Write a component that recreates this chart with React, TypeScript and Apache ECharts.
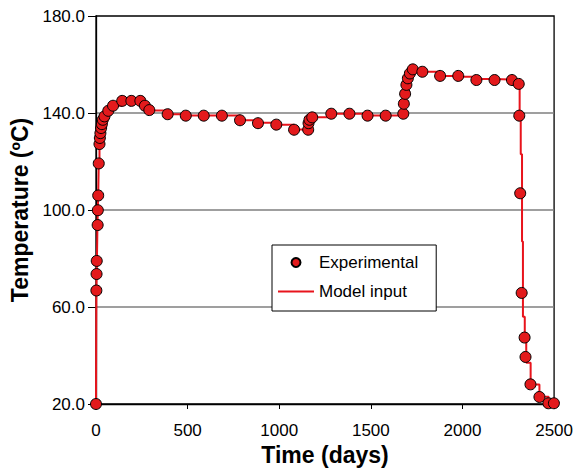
import React, { useEffect, useRef } from 'react';
import * as echarts from 'echarts';

// Experimental measurements (days, °C)
const expDays = [
  0, 2, 3, 4, 9, 10, 12, 15, 19, 21, 24, 28, 32, 37, 46, 67, 93, 143, 193, 242,
  267, 291, 391, 490, 588, 687, 786, 884, 984, 1081, 1158, 1160, 1165, 1180,
  1284, 1383, 1482, 1581, 1677, 1680, 1687, 1694, 1702, 1713, 1729, 1781, 1878,
  1977, 2076, 2175, 2270, 2307, 2310, 2315, 2323, 2339, 2344, 2371, 2420, 2469, 2499,
];
const expTemps = [
  20, 66.8, 73.6, 79, 93.8, 99.9, 106, 119.2, 127.2, 129.7, 131.7, 133.8, 135.4,
  137.2, 138.6, 140.9, 143, 145, 145, 145, 143, 141.2, 139.5, 138.9, 138.9, 138.9,
  137, 135.8, 135.2, 133.1, 133.1, 135.8, 137.2, 138.2, 139.7, 139.7, 138.9, 138.9,
  139.7, 143.8, 147.9, 151.6, 154.3, 156.3, 158, 157, 155.3, 155.3, 153.6, 153.6,
  153.6, 152, 138.9, 106.9, 65.8, 47.4, 39.4, 28.1, 22.9, 20.3, 20.3,
];

// Model input (step function)
const modelDays = [
  0, 1, 2, 4, 5, 8, 10, 12, 15, 19, 21, 24, 28, 32, 37, 46, 67, 93, 143, 193,
  242, 267, 291, 391, 490, 588, 687, 786, 884, 984, 1081, 1158, 1163, 1170, 1180,
  1284, 1383, 1482, 1581, 1677, 1681, 1687, 1694, 1702, 1713, 1729, 1781, 1878,
  1977, 2076, 2175, 2270, 2305, 2312, 2318, 2325, 2330, 2340, 2348, 2372, 2420,
  2470, 2500,
];
const modelTemps = [
  20, 45, 67, 74, 79, 94, 100, 106, 119, 127, 130, 132, 134, 135.5, 137, 138.6,
  141, 143, 145, 145, 145, 143, 141, 139.5, 139, 139, 139, 137, 136, 135.2, 133.2,
  133.2, 136, 137.5, 138.2, 139.7, 139.7, 139, 139, 139.7, 144, 148, 151.6, 154.3,
  156.3, 158, 157, 155.3, 155, 154, 153.8, 153.6, 152, 137, 123, 87, 56, 46, 37,
  28, 23, 20.3, 20,
];

const X_MIN = 0;
const X_MAX = 2500;
const X_STEP = 500;
const Y_BASE = 20; // lowest temperature tick
const Y_TOP = 180;
const Y_STEP = 40;

const FONT = '"Liberation Sans", Arial, sans-serif';

export default function App() {
  const ref = useRef<HTMLDivElement>(null);
  useEffect(() => {
    const chart = echarts.init(ref.current!, null, { renderer: 'svg' });
    chart.setOption({
      animation: false,
      grid: {
        left: 96,
        right: 18,
        top: 16,
        bottom: 69,
        show: true,
        borderColor: '#000',
        borderWidth: 1.3,
        backgroundColor: 'transparent',
      },
      xAxis: {
        type: 'value',
        min: X_MIN,
        max: X_MAX,
        interval: X_STEP,
        name: 'Time (days)',
        nameLocation: 'middle',
        nameGap: 38,
        nameTextStyle: { fontFamily: FONT, fontWeight: 'bold', fontSize: 23, color: '#000' },
        axisLine: { lineStyle: { color: '#000', width: 1.3 } },
        axisTick: { show: true, inside: false, length: 5, lineStyle: { color: '#000' } },
        axisLabel: {
          margin: 18,
          fontSize: 17,
          fontFamily: FONT,
          color: '#000',
          formatter: (v: number) => String(v),
        },
        splitLine: { show: false },
      },
      yAxis: {
        type: 'value',
        min: 0,
        max: Y_TOP - Y_BASE,
        interval: Y_STEP,
        name: 'Temperature (ºC)',
        nameLocation: 'middle',
        nameGap: 63,
        nameTextStyle: { fontFamily: FONT, fontWeight: 'bold', fontSize: 23, color: '#000' },
        axisLine: { lineStyle: { color: '#000', width: 1.3 } },
        axisTick: { show: true, inside: false, length: 8, lineStyle: { color: '#000' } },
        axisLabel: {
          margin: 11,
          fontSize: 17,
          fontFamily: FONT,
          color: '#000',
          formatter: (v: number) => (v + Y_BASE).toFixed(1),
        },
        splitLine: {
          show: true,
          showMinLine: false,
          showMaxLine: false,
          lineStyle: { color: '#7f7f7f', width: 1.5 },
        },
      },
      legend: {
        orient: 'vertical',
        left: 272,
        top: 245,
        backgroundColor: '#fff',
        borderColor: '#000',
        borderWidth: 1,
        borderRadius: 0,
        padding: [9, 18, 11, 6],
        itemGap: 12,
        itemWidth: 36,
        itemHeight: 9,
        textStyle: { fontSize: 17, fontFamily: FONT, color: '#000' },
        data: [
          { name: 'Experimental', icon: 'circle' },
          { name: 'Model input', icon: 'path://M0,0L36,0L36,2L0,2Z' },
        ],
      },
      series: [
        {
          name: 'Model input',
          type: 'line',
          step: 'end',
          symbol: 'none',
          data: modelDays.map((d, i) => [d, modelTemps[i] - Y_BASE]),
          lineStyle: { color: '#e8141c', width: 2 },
          itemStyle: { color: '#e8141c' },
          z: 2,
        },
        {
          name: 'Experimental',
          type: 'scatter',
          symbol: 'circle',
          symbolSize: 11,
          data: expDays.map((d, i) => [d, expTemps[i] - Y_BASE]),
          itemStyle: { color: '#e31a1c', borderColor: '#000', borderWidth: 1, opacity: 1 },
          z: 3,
        },
      ],
    });
    return () => chart.dispose();
  }, []);
  return (
    <div
      ref={ref}
      style={{ position: 'absolute', left: 0, top: 0, width: 576, height: 473 }}
    />
  );
}
